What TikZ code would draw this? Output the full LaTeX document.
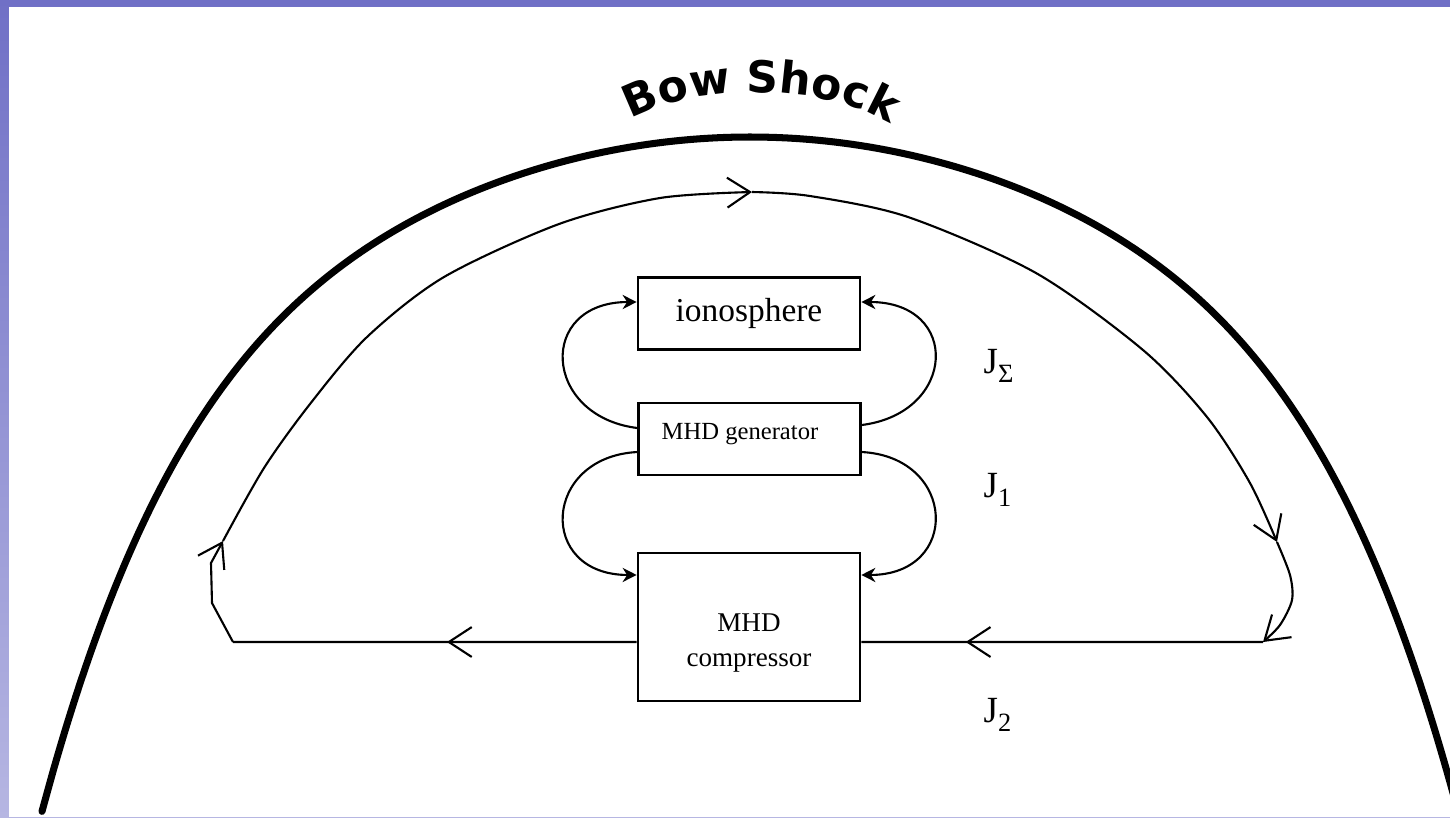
\documentclass[tikz,border=0pt]{standalone}
\usepackage{fontspec}
\setmainfont{Liberation Serif}
\newfontfamily\bowfamily{DejaVu Sans}
\usetikzlibrary{arrows.meta,decorations.markings,decorations.text}
\definecolor{frametop}{RGB}{112,112,198}
\definecolor{framelow}{RGB}{182,182,226}
\newcommand{\jsub}[1]{\raisebox{-2.6pt}{\fontsize{7.5}{9}\selectfont #1}}
\newcommand{\bowfont}{\bowfamily\bfseries\fontsize{12.5}{15}\selectfont}
\tikzset{
  flowtip/.tip={Straight Barb[length=6.5pt,width=8.5pt]},
  box/.style={draw=black,line width=0.7pt,minimum width=2.22cm,inner sep=0pt},
  loopline/.style={line width=0.6pt},
  boxarrow/.style={line width=0.6pt,-{Stealth[length=4pt,width=4pt]}},
  midarrow/.style={postaction={decorate},decoration={markings,mark=at position #1 with {\arrow{flowtip}}}},
  jlabel/.style={anchor=base west,inner sep=0pt,font=\fontsize{10.5}{12}\selectfont},
}

\begin{document}
\begin{tikzpicture}[x=0.01cm,y=0.01cm]
\useasboundingbox (0,0) rectangle (1450,-817);
% slide frame
\shade[top color=frametop,bottom color=framelow] (0,0) rectangle (1450,-817);
\fill[white] (8.5,-7) rectangle (1450,-817);
% bow shock
\draw[line width=2pt,line cap=round] plot[domain=-708:722,samples=120,smooth] ({750+\x},{-137-700*(abs(\x)/1000)^2-170*(abs(\x)/636)^6});
\path[decorate,decoration={text along path,text align=center,text={|\bowfont|Bow Shock}}] (628,-121) .. controls (690,-82) and (830,-82) .. (893,-126);
%
\node[box,minimum height=0.72cm,font=\fontsize{9.5}{11}\selectfont] (iono) at (749,-313.5) {ionosphere};
\node[box,minimum height=0.72cm] (gen) at (749.5,-439) {};
\node[box,minimum height=1.48cm] (comp) at (749,-627) {};
\node[font=\fontsize{7}{8}\selectfont,inner sep=0pt] (gentext) at (740,-434.5) {MHD generator};
\node[font=\fontsize{7.7}{10}\selectfont,align=center,inner sep=0pt] (comptext) at (749,-643) {MHD\\compressor};
%
\draw[boxarrow] ([yshift=0.11cm]gen.west) .. controls +(-95,12) and +(-100,0) .. ([yshift=0.115cm]iono.west);
\draw[boxarrow] ([yshift=0.14cm]gen.east) .. controls +(95,12) and +(100,0) .. ([yshift=0.115cm]iono.east);
\draw[boxarrow] ([yshift=-0.13cm]gen.west) .. controls +(-95,-5) and +(-100,0) .. ([yshift=0.52cm]comp.west);
\draw[boxarrow] ([yshift=-0.13cm]gen.east) .. controls +(95,-5) and +(100,0) .. ([yshift=0.52cm]comp.east);
% outer current loop
\coordinate (lc) at (233,-642);
\coordinate (la) at (223,-541);
\coordinate (ta) at (752,-192);
\coordinate (ra) at (1277,-542);
\coordinate (rc) at (1263,-642);
\draw[loopline,-{flowtip}] (lc) -- (212,-603) -- (211,-563) -- (la);
\draw[loopline,-{flowtip}] plot[smooth] coordinates {(la) (264,-468) (310,-404) (367,-337) (444,-277) (559,-224) (660,-198) (ta)};
\draw[loopline,-{flowtip}] plot[smooth] coordinates {(ta) (810,-196) (908,-217) (1036,-273) (1143,-350) (1207,-417) (1250,-483) (ra)};
\draw[loopline,-{flowtip}] plot[smooth] coordinates {(ra) (1290,-575) (1292,-600) (1280,-625) (rc)};
\draw[loopline,midarrow=0.74] (rc) -- ([yshift=-0.15cm]comp.east);
\draw[loopline,midarrow=0.47] ([yshift=-0.15cm]comp.west) -- (lc);
%
\node[jlabel] (jsum) at (983,-373) {J\jsub{Σ}};
\node[jlabel] (jone) at (983,-497) {J\jsub{1}};
\node[jlabel] (jtwo) at (983,-722) {J\jsub{2}};
\end{tikzpicture}
\end{document}
